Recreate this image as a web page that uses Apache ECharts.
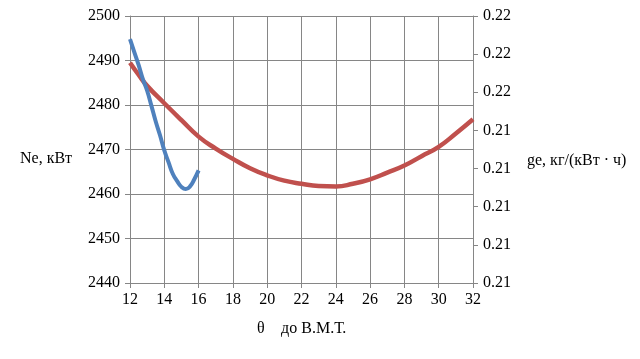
<!DOCTYPE html>
<html>
<head>
<meta charset="utf-8">
<script src="https://cdn.jsdelivr.net/npm/echarts@6/dist/echarts.min.js"></script>
<style>
html,body{margin:0;padding:0;background:#fff;}
#c{width:640px;height:359px;}
</style>
</head>
<body>
<div id="c"></div>
<script>
// Ne, kW (left axis) vs theta
var neX = [12, 12.25, 12.5, 12.75, 13, 13.25, 13.5, 13.75, 14, 14.25, 14.5, 14.75, 15, 15.25, 15.5, 15.75, 16];
var neY = [2494.8, 2491.9, 2489.0, 2485.8, 2483.2, 2479.8, 2476.3, 2473.2, 2469.8, 2467.1, 2464.5, 2462.9, 2461.6, 2461.1, 2461.7, 2463.3, 2465.3];
// ge, kg/(kW·h) (right axis) vs theta
var geX = [12, 12.5, 13, 14, 15, 16, 17, 18, 19, 20, 21, 22, 23, 24, 25, 26, 27, 28, 29, 30, 31, 32];
var geY = [0.215775, 0.21546, 0.215168, 0.214713, 0.21427, 0.213838, 0.213523, 0.213255, 0.21301, 0.212823, 0.212683, 0.212602, 0.212543, 0.212532, 0.212602, 0.212718, 0.212893, 0.21308, 0.213325, 0.21357, 0.21392, 0.214293];
// right axis tick labels (as printed)
var geTickLabels = ['0.21', '0.21', '0.21', '0.21', '0.21', '0.22', '0.22', '0.22'];
var geMin = 0.210, geMax = 0.217, geStep = 0.001;

var neData = neX.map(function (x, i) { return [x, neY[i]]; });
var geData = geX.map(function (x, i) { return [x, geY[i]]; });

var font = 'Liberation Serif';
var axisGray = '#868686';
var chart = echarts.init(document.getElementById('c'), null, {renderer: 'canvas'});
chart.setOption({
  animation: false,
  backgroundColor: '#ffffff',
  grid: {left: 130, right: 167, top: 16, bottom: 76, containLabel: false},
  xAxis: {
    type: 'value', min: 12, max: 32, interval: 2,
    axisLine: {show: true, lineStyle: {color: axisGray, width: 1}},
    axisTick: {show: true, inside: false, length: 5, lineStyle: {color: axisGray}},
    axisLabel: {fontFamily: font, fontSize: 16, color: '#000', margin: 9,
      formatter: function (v) { return String(v); }},
    splitLine: {show: true, lineStyle: {color: axisGray, width: 1}}
  },
  yAxis: [{
    type: 'value', min: 2440, max: 2500, interval: 10, position: 'left',
    axisLine: {show: true, lineStyle: {color: axisGray, width: 1}},
    axisTick: {show: true, inside: false, length: 5, lineStyle: {color: axisGray}},
    axisLabel: {fontFamily: font, fontSize: 16, color: '#000', margin: 10,
      formatter: function (v) { return String(v); }},
    splitLine: {show: true, lineStyle: {color: axisGray, width: 1}}
  }, {
    type: 'value', min: geMin, max: geMax, interval: geStep, position: 'right',
    axisLine: {show: true, lineStyle: {color: axisGray, width: 1}},
    axisTick: {show: true, inside: false, length: 5, lineStyle: {color: axisGray}},
    axisLabel: {fontFamily: font, fontSize: 16, color: '#000', margin: 10,
      formatter: function (v) { var i = Math.round((v - geMin) / geStep); return geTickLabels[i] || ''; }},
    splitLine: {show: false}
  }],
  series: [{
    type: 'line', yAxisIndex: 0, data: neData, smooth: true, showSymbol: false,
    lineStyle: {color: '#4f81bd', width: 4}, itemStyle: {color: '#4f81bd'}, z: 3
  }, {
    type: 'line', yAxisIndex: 1, data: geData, smooth: true, showSymbol: false,
    lineStyle: {color: '#c0504d', width: 4.5}, itemStyle: {color: '#c0504d'}, z: 2
  }],
  graphic: [
    {type: 'text', left: 20, top: 151, style: {text: 'Ne, кВт', font: '16px "Liberation Serif"', fill: '#000'}},
    {type: 'text', left: 527, top: 153, style: {text: 'ge, кг/(кВт · ч)', font: '16px "Liberation Serif"', fill: '#000'}},
    {type: 'text', left: 257, top: 321, style: {text: 'θ\uF0B0 до В.М.Т.', font: '16px "Liberation Serif"', fill: '#000'}}
  ]
});
</script>
</body>
</html>
